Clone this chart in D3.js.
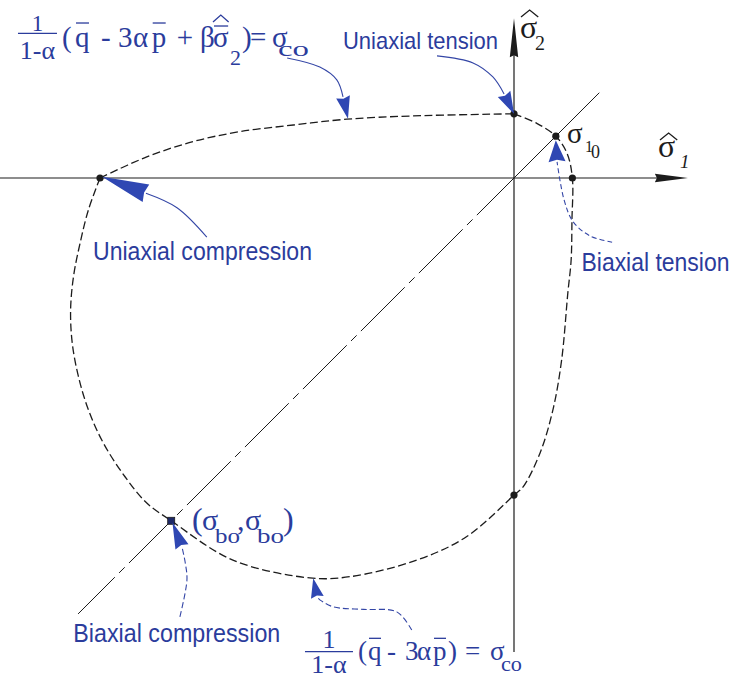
<!DOCTYPE html>
<html>
<head>
<meta charset="utf-8">
<script src="https://cdn.jsdelivr.net/npm/d3@7"></script>
<style>
  html, body { margin: 0; padding: 0; background: #fff; }
  svg { display: block; }
</style>
</head>
<body>
<svg id="chart" width="734" height="677"></svg>
<script>
// Principal stress plane (σ̂1, σ̂2), normalised so the uniaxial compressive yield point sits at -10.

// Yield surface, traced counter-clockwise in four branches
const topBranch = [[-10, 0], [-8.87, 0.51], [-7.75, 0.88], [-6.62, 1.12], [-5.33, 1.28],
  [-4.04, 1.42], [-2.43, 1.50], [0, 1.55]];
const tensionBranch = [[0, 1.55], [0.55, 1.32], [1.01, 1.01], [1.28, 0.60], [1.41, 0],
  [1.40, -1.01], [1.38, -1.98], [1.30, -2.78], [1.15, -4.40], [0.94, -5.60], [0.63, -6.64],
  [0.22, -7.46], [0, -7.66]];
const bottomBranch = [[0, -7.66], [-1.14, -8.66], [-2.35, -9.23], [-3.96, -9.63], [-4.93, -9.66],
  [-6.79, -9.23], [-8.28, -8.28]];
const leftBranch = [[-8.28, -8.28], [-8.87, -7.85], [-9.40, -7.21], [-9.92, -6.40], [-10.28, -5.60],
  [-10.52, -4.80], [-10.67, -3.99], [-10.71, -3.19], [-10.64, -2.38], [-10.48, -1.57],
  [-10.28, -0.77], [-10, 0]];

// Characteristic stress states
const pointNames = ["uniaxial compression", "uniaxial tension", "biaxial tension",
  "uniaxial tension (σ̂1)", "uniaxial compression (σ̂2)", "biaxial compression"];
const pointS1 = [-10, 0, 1.01, 1.41, 0, -8.28];
const pointS2 = [0, 1.55, 1.01, 0, -7.66, -8.28];

// Axis and bisector extents
const axisS1 = [-12.42, 4.20];
const axisS2 = [-11.45, 3.86];
const bisector = [-10.53, 0, 2.06];

// Annotation leaders: curve points, then the arrow tip
const leaderPaths = [
  [[-1.86, 2.95], [-0.99, 2.78], [-0.51, 2.44], [-0.24, 2.03]],
  [[-5.48, 2.90], [-4.69, 2.68], [-4.28, 2.37], [-4.13, 1.96]],
  [[-7.42, -1.43], [-8.14, -0.72], [-8.89, -0.37]],
  [[2.37, -1.55], [1.84, -1.40], [1.43, -1.06], [1.21, -0.53], [1.04, 0.39]],
  [[-8.07, -10.60], [-7.90, -9.71], [-7.94, -9.30], [-8.02, -8.91]],
  [[-2.47, -10.92], [-2.83, -10.48], [-3.64, -10.42], [-4.36, -10.36], [-4.69, -10.19], [-4.75, -10.13]]
];
const leaderTips = [[0, 1.55], [-4.01, 1.43], [-9.95, 0.03], [1.01, 0.91], [-8.25, -8.32], [-4.85, -9.67]];

// Text labels
const labelTexts = ["Uniaxial tension", "Uniaxial compression", "Biaxial tension", "Biaxial compression"];
const labelAnchors = [[-4.13, 3.116], [-10.169, -1.981], [1.63, -2.239], [-10.645, -11.20]];

// ---------------------------------------------------------------------------
const svg = d3.select("#chart");
const x = d3.scaleLinear().domain([-10, 0]).range([100, 514]);
const y = d3.scaleLinear().domain([-10, 0]).range([592, 178]);

const INK = "#1c1c1c";
const BLUE = "#2b3c9c";
const BLUE_HEAD = "#2f47b3";
const SANS = '"Liberation Sans", Arial, Helvetica, sans-serif';
const SERIF = '"Liberation Serif", "Times New Roman", Times, serif';

const P = d => [x(d[0]), y(d[1])];

// arrowhead with a slightly notched base, pointing from base to tip (pixel coords)
function arrowHead(g, base, tip, hw, fill) {
  const dx = tip[0] - base[0], dy = tip[1] - base[1];
  const L = Math.hypot(dx, dy), ux = dx / L, uy = dy / L, px = -uy, py = ux;
  const notch = [base[0] + ux * 2, base[1] + uy * 2];
  const pts = [tip, [base[0] + px * hw, base[1] + py * hw], notch, [base[0] - px * hw, base[1] - py * hw]];
  g.append("path").attr("d", "M" + pts.map(p => p.join(",")).join("L") + "Z").attr("fill", fill);
}

// --- axes
const axes = svg.append("g");
axes.append("line")
  .attr("x1", x(axisS1[0])).attr("x2", x(axisS1[1]) - 20)
  .attr("y1", y(0)).attr("y2", y(0))
  .attr("stroke", INK).attr("stroke-width", 1.2);
arrowHead(axes, [x(axisS1[1]) - 33, y(0)], [x(axisS1[1]), y(0)], 4.2, INK);
axes.append("line")
  .attr("x1", x(0)).attr("x2", x(0))
  .attr("y1", y(axisS2[0])).attr("y2", y(axisS2[1]) + 20)
  .attr("stroke", INK).attr("stroke-width", 1.2);
arrowHead(axes, [x(0), y(axisS2[1]) + 39], [x(0), y(axisS2[1])], 4.2, INK);

// --- bisector σ̂1 = σ̂2 : solid in the tension quadrant, chain line in compression
axes.append("line")
  .attr("x1", x(bisector[1])).attr("y1", y(bisector[1]))
  .attr("x2", x(bisector[2])).attr("y2", y(bisector[2]))
  .attr("stroke", INK).attr("stroke-width", 1);
axes.append("line")
  .attr("x1", x(bisector[0])).attr("y1", y(bisector[0]))
  .attr("x2", x(bisector[1])).attr("y2", y(bisector[1]))
  .attr("stroke", INK).attr("stroke-width", 1)
  .attr("stroke-dasharray", "62 6 8 6").attr("stroke-dashoffset", 10);

// --- yield surface
const curve = d3.line().x(d => x(d[0])).y(d => y(d[1])).curve(d3.curveCatmullRom.alpha(0.5));
const surface = svg.append("g").attr("fill", "none").attr("stroke", INK)
  .attr("stroke-width", 1.3).attr("stroke-dasharray", "8 3.5");
surface.append("path").attr("d", curve(topBranch));
surface.append("path").attr("d", curve(
  tensionBranch.concat(bottomBranch.slice(1), leftBranch.slice(1))));

// --- characteristic points
const pts = svg.append("g");
pointNames.forEach((name, i) => {
  const cx = x(pointS1[i]), cy = y(pointS2[i]);
  if (name === "biaxial compression") {
    pts.append("rect").attr("x", cx - 3.5).attr("y", cy - 3.5).attr("width", 7).attr("height", 7)
      .attr("fill", "#1e2966").attr("stroke", INK).attr("stroke-width", 0.8);
  } else {
    pts.append("circle").attr("cx", cx).attr("cy", cy).attr("r", 3.6).attr("fill", INK);
  }
});

// --- leaders
const lead = d3.line().x(d => x(d[0])).y(d => y(d[1])).curve(d3.curveCatmullRom.alpha(0.5));
const leaderDash = [null, null, null, "5 3", "6 3", "6 3"];
const leaderHalfWidth = [7, 7, 9.3, 8.5, 7, 6.5];
const leaders = svg.append("g");
leaderPaths.forEach((path, i) => {
  const p = leaders.append("path").attr("d", lead(path)).attr("fill", "none")
    .attr("stroke", "#3446a6").attr("stroke-width", 1.1);
  if (leaderDash[i]) p.attr("stroke-dasharray", leaderDash[i]);
  arrowHead(leaders, P(path[path.length - 1]), P(leaderTips[i]), leaderHalfWidth[i], BLUE_HEAD);
});

// --- plain labels
const labelSize = [24, 25, 25, 25];
const labelWidth = [155, 219, 148, 207];
labelTexts.forEach((t, i) => {
  svg.append("text")
    .attr("x", x(labelAnchors[i][0])).attr("y", y(labelAnchors[i][1]))
    .attr("font-family", SANS).attr("font-size", labelSize[i]).attr("fill", BLUE)
    .attr("textLength", labelWidth[i]).attr("lengthAdjust", "spacingAndGlyphs")
    .text(t);
});

// --- typeset formula pieces placed along one baseline
function mathRow(g, x0, y0, pieces, color) {
  pieces.forEach(p => {
    const t = g.append("text")
      .attr("x", x0 + p.at).attr("y", y0 + (p.dy || 0))
      .attr("font-family", SERIF).attr("font-size", p.size).attr("fill", color)
      .text(p.t);
    if (p.italic) t.attr("font-style", "italic");
    if (p.fit) t.attr("textLength", p.fit).attr("lengthAdjust", "spacingAndGlyphs");
    const w = p.fit || t.node().getComputedTextLength();
    if (p.bar != null) {
      g.append("line").attr("x1", x0 + p.at + 1).attr("x2", x0 + p.at + w - 0.5)
        .attr("y1", y0 - p.bar).attr("y2", y0 - p.bar)
        .attr("stroke", color).attr("stroke-width", 1.3);
    }
    if (p.hat != null) {
      const hx = x0 + p.at + (p.hatShift || 0);
      g.append("path")
        .attr("d", `M${hx},${y0 - p.hat + 7}L${hx + w / 2},${y0 - p.hat}L${hx + w},${y0 - p.hat + 7}`)
        .attr("fill", "none").attr("stroke", color).attr("stroke-width", 1.3);
    }
  });
}

function fraction(g, cx, yBar, halfW, num, numSize, numDy, den, denSize, denDy, color) {
  g.append("line").attr("x1", cx - halfW).attr("x2", cx + halfW).attr("y1", yBar).attr("y2", yBar)
    .attr("stroke", color).attr("stroke-width", 1.3);
  g.append("text").attr("x", cx).attr("y", yBar + numDy).attr("text-anchor", "middle")
    .attr("font-family", SERIF).attr("font-size", numSize).attr("fill", color).text(num);
  g.append("text").attr("x", cx).attr("y", yBar + denDy).attr("text-anchor", "middle")
    .attr("font-family", SERIF).attr("font-size", denSize).attr("fill", color).text(den);
}

const math = svg.append("g");

// 1/(1-α) (q̄ - 3αp̄ + βσ̂₂) = σco  (upper branch)
fraction(math, x(-11.51), y(3.495), 19.5, "1", 23, -2.6, "1-α", 26, 25.5, BLUE);
mathRow(math, x(-10.918), y(3.164), [
  { t: "(", at: 0, size: 29 },
  { t: "q", at: 13, size: 29, bar: 24 },
  { t: "-", at: 39, size: 29 },
  { t: "3", at: 56, size: 29 },
  { t: "α", at: 71, size: 29 },
  { t: "p", at: 89.7, size: 29, bar: 24 },
  { t: "+", at: 114.7, size: 29 },
  { t: "β", at: 138, size: 29 },
  { t: "σ", at: 151, size: 29, bar: 21, hat: 32 },
  { t: "2", at: 168, size: 22, dy: 18 },
  { t: ")", at: 180, size: 29 },
  { t: "=", at: 188, size: 29 },
  { t: "σ", at: 210, size: 29 },
  { t: "co", at: 216, size: 22, dy: 9, fit: 31 }
], BLUE);

// 1/(1-α) (q̄ - 3αp̄) = σco  (compressive meridian)
fraction(math, x(-4.469), y(-11.442), 24, "1", 26, -3.7, "1-α", 26, 21.8, BLUE);
mathRow(math, x(-3.768), y(-11.643), [
  { t: "(", at: 0, size: 27 },
  { t: "q", at: 10, size: 27, bar: 21.7 },
  { t: "-", at: 29, size: 27 },
  { t: "3", at: 47, size: 27 },
  { t: "α", at: 59, size: 27 },
  { t: "p", at: 75, size: 27, bar: 21.7 },
  { t: ")", at: 90, size: 27 },
  { t: "=", at: 107, size: 27 },
  { t: "σ", at: 132, size: 27 },
  { t: "co", at: 143, size: 22, dy: 11, fit: 21 }
], BLUE);

// (σbo, σbo)
mathRow(math, x(-7.778), y(-8.502), [
  { t: "(", at: 0, size: 32 },
  { t: "σ", at: 10, size: 30 },
  { t: "bo", at: 23, size: 20, dy: 13, fit: 25 },
  { t: ",", at: 45, size: 30 },
  { t: "σ", at: 53, size: 30 },
  { t: "bo", at: 65, size: 20, dy: 13, fit: 27 },
  { t: ")", at: 91, size: 32 }
], BLUE);

// σ1o
mathRow(math, x(1.28), y(0.845), [
  { t: "σ", at: 0, size: 29 },
  { t: "1", at: 18, size: 16, dy: 9 },
  { t: "0", at: 24, size: 18, dy: 15 }
], INK);

// axis titles σ̂1 and σ̂2
mathRow(math, x(3.478), y(0.507), [
  { t: "σ", at: 0, size: 32, hat: 24, hatShift: 2 },
  { t: "1", at: 22, size: 19, dy: 11, italic: true }
], INK);
mathRow(math, x(0.145), y(3.382), [
  { t: "σ", at: 0, size: 32, hat: 28, hatShift: 1 },
  { t: "2", at: 15, size: 20, dy: 12 }
], INK);
</script>
</body>
</html>
